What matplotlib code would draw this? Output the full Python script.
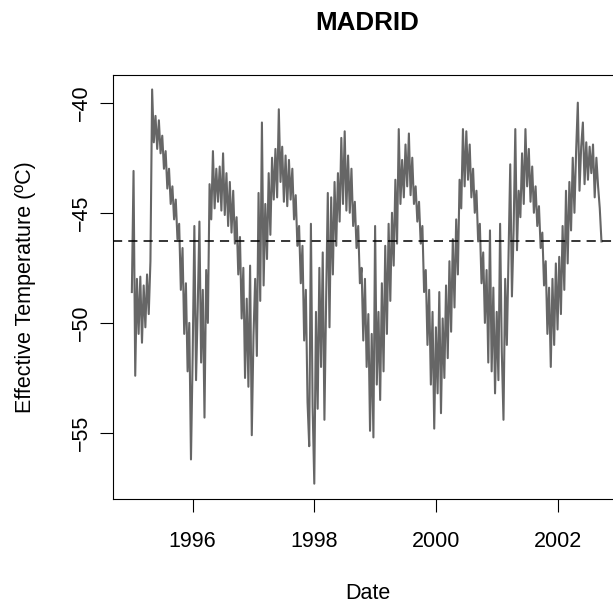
import numpy as np
import matplotlib
matplotlib.use("Agg")
import matplotlib.pyplot as plt

plt.rcParams['font.family'] = ['Liberation Sans', 'DejaVu Sans']

# effective temperature, every 10 days (36 per year)
y1995 = [-48.6, -43.1, -52.4, -48.0, -50.5, -47.9, -50.9, -48.3, -50.2, -47.8, -49.6, -47.2,
         -39.4, -41.8, -40.6, -42.1, -40.8, -42.3, -41.5, -43.0, -42.2, -43.9, -43.0, -44.6,
         -43.8, -45.3, -44.4, -46.2, -45.5, -48.5, -46.6, -50.5, -48.2, -52.2, -50.0, -56.2]
y1996 = [-51.5, -45.6, -52.6, -49.3, -45.4, -51.8, -48.5, -54.3, -47.6, -50.0, -43.7, -45.3,
         -42.2, -44.8, -43.0, -44.5, -42.9, -44.9, -42.3, -45.1, -43.2, -45.6, -43.6, -45.9,
         -44.0, -46.4, -45.2, -47.8, -46.1, -49.8, -47.5, -52.5, -48.9, -52.9, -47.4, -55.1]
y1997 = [-50.6, -48.0, -51.5, -44.1, -49.0, -40.9, -48.3, -44.6, -47.1, -43.2, -46.0, -42.5,
         -44.4, -42.1, -44.3, -40.3, -43.6, -42.0, -44.5, -42.4, -44.7, -42.6, -44.4, -43.0,
         -45.3, -44.2, -46.5, -45.6, -48.2, -46.5, -50.8, -48.5, -53.6, -55.6, -45.5, -53.8]
y1998 = [-57.3, -49.5, -53.9, -47.5, -52.0, -46.8, -54.4, -49.0, -44.1, -50.2, -44.3, -47.8,
         -43.6, -46.5, -43.2, -45.4, -41.6, -44.6, -41.3, -44.9, -42.4, -45.0, -43.0, -45.6,
         -44.5, -46.6, -45.6, -48.2, -47.5, -50.8, -48.0, -52.0, -49.6, -54.9, -50.5, -55.2]
y1999 = [-45.6, -52.8, -49.5, -53.5, -48.2, -52.2, -46.5, -50.5, -45.5, -49.0, -45.0, -47.4,
         -43.5, -46.4, -41.2, -44.6, -42.6, -44.3, -41.9, -43.8, -41.4, -44.2, -42.5, -44.6,
         -43.8, -45.4, -44.5, -46.4, -45.6, -48.6, -47.6, -51.0, -48.5, -52.8, -49.5, -54.8]
y2000 = [-50.2, -53.2, -48.6, -54.1, -49.8, -52.5, -48.3, -51.6, -47.2, -50.4, -46.2, -49.3,
         -45.3, -47.8, -43.5, -44.8, -41.2, -43.8, -41.3, -43.5, -41.9, -44.3, -43.0, -45.0,
         -44.0, -46.3, -45.5, -48.2, -46.8, -50.0, -47.6, -51.8, -45.8, -52.2, -48.4, -53.2]
y2001 = [-49.5, -52.6, -45.5, -51.3, -54.4, -48.0, -51.0, -47.0, -42.8, -48.8, -45.8, -41.2,
         -46.7, -44.0, -45.2, -42.3, -44.6, -41.2, -43.8, -42.1, -44.5, -42.9, -45.0, -43.8,
         -45.6, -44.7, -46.6, -45.9, -48.3, -47.2, -50.5, -48.4, -52.0, -48.0, -51.0, -47.3]
y2002 = [-50.3, -47.0, -49.6, -45.6, -48.5, -44.0, -47.3, -43.6, -45.8, -42.5, -45.0, -42.2,
         -40.0, -44.0, -42.0, -40.9, -43.7, -41.8, -43.5, -42.0, -43.2, -41.9, -44.3, -42.5,
         -43.8, -44.8, -46.3]

years = [1995, 1996, 1997, 1998, 1999, 2000, 2001, 2002]
series = [y1995, y1996, y1997, y1998, y1999, y2000, y2001, y2002]
mean_level = -46.3

dates = np.concatenate([yr + np.arange(len(v)) / 36.0 for yr, v in zip(years, series)])
temps = np.concatenate(series)

fig = plt.figure(figsize=(6.13, 6.04), dpi=100)
ax = fig.add_axes([113 / 613, 104.7 / 604, 509 / 613, 424.6 / 604])

ax.plot(dates, temps, color='#666666', lw=1.5)
ax.axhline(mean_level, color='black', lw=1.1, linestyle=(0, (6, 4)))

ax.set_xlim(1994.69, 2003.06)
ax.set_ylim(-58.01, -38.73)
ax.set_xticks([1996, 1998, 2000, 2002])
ax.set_yticks([-40, -45, -50, -55])
ax.tick_params(length=9.5, width=0.8, labelsize=15.5)
ax.tick_params(axis='x', pad=13)
ax.tick_params(axis='y', pad=6)
for lab in ax.get_yticklabels():
    lab.set_rotation(90)
    lab.set_va('center')

for s in ax.spines.values():
    s.set_linewidth(0.8)

ax.set_title('MADRID', fontsize=18.7, fontweight='bold', pad=32)
ax.set_xlabel('Date', fontsize=15.5, labelpad=23)
ax.set_ylabel('Effective Temperature (ºC)', fontsize=15.5, labelpad=25)

fig.savefig('out.png', dpi=100)
